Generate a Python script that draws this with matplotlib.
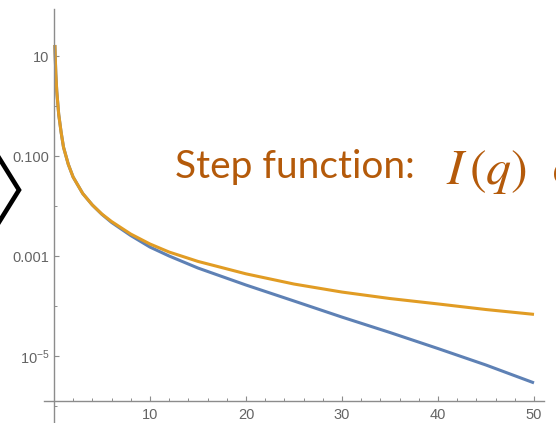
import numpy as np
import matplotlib
matplotlib.use("Agg")
import matplotlib.pyplot as plt
from matplotlib.ticker import FixedLocator, FixedFormatter, NullFormatter
from matplotlib.lines import Line2D

plt.rcParams['font.family'] = ['Liberation Sans', 'DejaVu Sans']
plt.rcParams['mathtext.fontset'] = 'stix'
plt.rcParams['mathtext.default'] = 'regular'

# values (log y axis)
q = [0.1, 0.2, 0.3, 0.5, 0.75, 1, 1.5, 2, 3, 4, 5, 6, 8, 10,
     12, 15, 20, 25, 30, 35, 40, 45, 50]
i_step = [16.6, 4.4, 1.95, 0.68, 0.30, 0.15, 0.068, 0.038, 0.0178, 0.0105,
          0.0069, 0.0049, 0.00275, 0.00174, 0.0012, 7.8e-4, 4.4e-4,
          2.75e-4, 1.9e-4, 1.41e-4, 1.10e-4, 8.5e-5, 6.8e-5]
i_smooth = [16.6, 4.4, 1.95, 0.68, 0.30, 0.15, 0.068, 0.038, 0.0178, 0.0105,
            0.0068, 0.0047, 0.00257, 0.00151, 0.0010, 5.75e-4, 2.63e-4,
            1.26e-4, 6.0e-5, 2.95e-5, 1.41e-5, 6.6e-6, 2.9e-6]

y_major = [10, 0.1, 1e-3, 1e-5]
y_labels = ['10', '0.100', '0.001', '$10^{-5}$']
y_minor = [1, 1e-2, 1e-4, 1e-6]
x_major = [10, 20, 30, 40, 50]

W, H = 556, 423
fig = plt.figure(figsize=(W / 100, H / 100), dpi=100)
ax = fig.add_axes([44.3 / W, 0, (543.6 - 44.3) / W, (H - 9) / H])

ax.plot(q, i_smooth, color='#5E81B5', lw=2.2, solid_capstyle='butt')
ax.plot(q, i_step, color='#E19C24', lw=2.2, solid_capstyle='butt')

ax.set_yscale('log')
ax.set_xlim(-1, 51)
ax.set_ylim(10 ** -6.34, 10 ** 1.94)

for s in ['top', 'right']:
    ax.spines[s].set_visible(False)
ax.spines['left'].set_position(('data', 0))
ax.spines['bottom'].set_position(('data', 10 ** -5.894))
for s in ['left', 'bottom']:
    ax.spines[s].set_color('#8c8c8c')
    ax.spines[s].set_linewidth(1.0)

ax.yaxis.set_major_locator(FixedLocator(y_major))
ax.yaxis.set_major_formatter(FixedFormatter(y_labels))
ax.yaxis.set_minor_locator(FixedLocator(y_minor))
ax.yaxis.set_minor_formatter(NullFormatter())
ax.xaxis.set_major_locator(FixedLocator(x_major))
ax.xaxis.set_minor_locator(FixedLocator(np.arange(2, 50, 2)))

ax.tick_params(which='both', direction='in', color='#8c8c8c', labelcolor='#646464',
               labelsize=10.5)
ax.tick_params(which='major', length=3.5, width=0.8)
ax.tick_params(which='minor', length=2, width=0.7)
ax.tick_params(axis='y', pad=3)
ax.tick_params(axis='x', pad=5)

# overlaid slide text
txt_color = '#B45A0A'
fig.text(175 / W, 1 - 178 / H, 'Step function:', color=txt_color, fontsize=28,
         family='Lato', va='baseline', ha='left')
fig.text(446 / W, 1 - 184 / H, r'$\mathit{I}\,(\mathit{q})$', color=txt_color,
         fontsize=36, family='STIXGeneral', va='baseline', ha='left')
fig.text(544 / W, 1 - 184 / H, r'$\propto$', color=txt_color,
         fontsize=36, family='STIXGeneral', va='baseline', ha='left')

# black chevron at left edge
fig.add_artist(Line2D([-4 / W, 19 / W, -4 / W],
                      [1 - 153 / H, 1 - 190 / H, 1 - 227 / H],
                      transform=fig.transFigure, color='black', lw=3.3,
                      solid_joinstyle='miter'))

fig.savefig('out.png', dpi=100)
